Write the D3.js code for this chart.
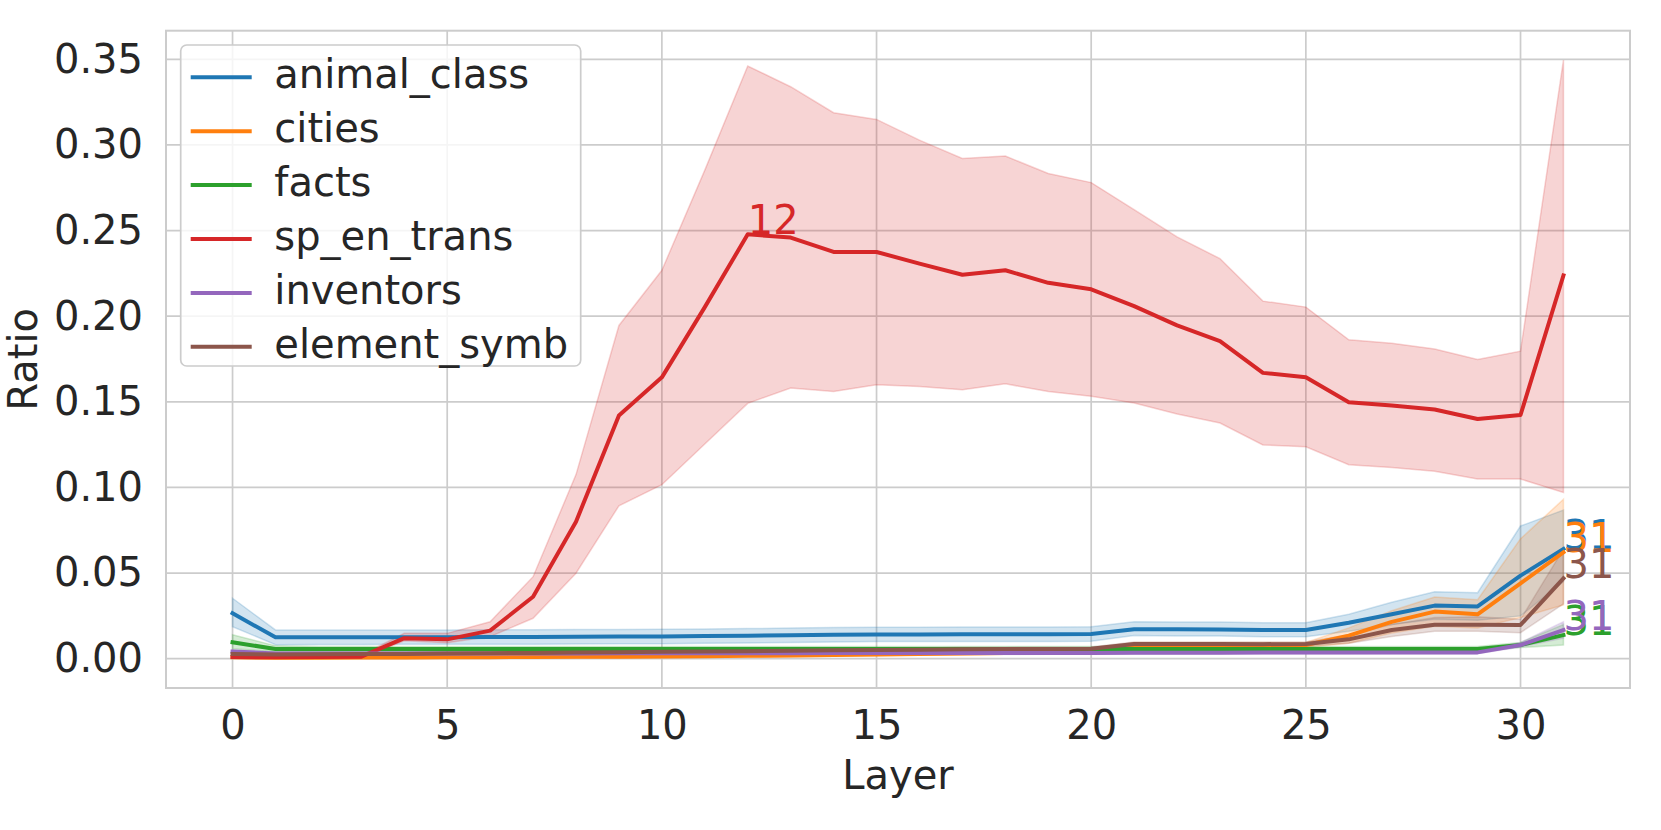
<!DOCTYPE html>
<html>
<head>
<meta charset="utf-8">
<script src="https://cdn.jsdelivr.net/npm/d3@7"></script>
<style>
  body { margin: 0; background: #fff; }
  text { font-family: "DejaVu Sans", sans-serif; fill: #262626; }
</style>
</head>
<body>
<div id="mainchart"></div>
<script>
// layers 0..31
var layers = d3.range(0, 32);
var seriesNames = ["animal_class", "cities", "facts", "sp_en_trans", "inventors", "element_symb"];
var seriesColors = ["#1f77b4", "#ff7f0e", "#2ca02c", "#d62728", "#9467bd", "#8c564b"];
var xTicks = [0, 5, 10, 15, 20, 25, 30];
var yTicks = [0, 0.05, 0.10, 0.15, 0.20, 0.25, 0.30, 0.35];

var animalMean  = [0.0265,0.0125,0.0125,0.0125,0.0126,0.0126,0.0127,0.0127,0.0128,0.0129,0.0130,0.0132,0.0134,0.0137,0.0140,0.0142,0.0142,0.0143,0.0143,0.0143,0.0144,0.0172,0.0172,0.0171,0.0168,0.0168,0.0210,0.0260,0.0310,0.0305,0.0485,0.0641];
var animalUpper = [0.0353,0.0168,0.0167,0.0167,0.0168,0.0168,0.0169,0.0169,0.0170,0.0171,0.0172,0.0174,0.0176,0.0179,0.0182,0.0184,0.0184,0.0185,0.0185,0.0185,0.0186,0.0216,0.0215,0.0214,0.0210,0.0210,0.0260,0.0330,0.0391,0.0385,0.0775,0.0868];
var animalLower = [0.0187,0.0082,0.0083,0.0083,0.0084,0.0084,0.0085,0.0085,0.0086,0.0087,0.0088,0.0090,0.0092,0.0095,0.0098,0.0100,0.0100,0.0101,0.0101,0.0101,0.0102,0.0135,0.0133,0.0132,0.0128,0.0128,0.0160,0.0200,0.0230,0.0225,0.0250,0.0450];

var citiesMean  = [0.0008,0.0006,0.0006,0.0007,0.0007,0.0008,0.0009,0.0010,0.0011,0.0012,0.0013,0.0015,0.0017,0.0019,0.0022,0.0025,0.0028,0.0030,0.0033,0.0035,0.0038,0.0080,0.0080,0.0080,0.0079,0.0080,0.0135,0.0215,0.0275,0.0259,0.0440,0.0621];
var citiesUpper = [0.0015,0.0013,0.0013,0.0014,0.0014,0.0015,0.0016,0.0018,0.0019,0.0020,0.0021,0.0023,0.0025,0.0027,0.0030,0.0033,0.0036,0.0038,0.0041,0.0043,0.0046,0.0095,0.0095,0.0095,0.0094,0.0095,0.0180,0.0280,0.0360,0.0345,0.0700,0.0931];
var citiesLower = [0.0002,0.0001,0.0001,0.0001,0.0001,0.0002,0.0003,0.0004,0.0005,0.0006,0.0007,0.0008,0.0010,0.0012,0.0015,0.0018,0.0021,0.0023,0.0026,0.0028,0.0031,0.0065,0.0065,0.0065,0.0064,0.0065,0.0090,0.0150,0.0190,0.0180,0.0240,0.0314];

var factsMean  = [0.0096,0.0057,0.0056,0.0056,0.0056,0.0056,0.0056,0.0056,0.0056,0.0056,0.0056,0.0056,0.0056,0.0056,0.0056,0.0056,0.0056,0.0056,0.0056,0.0056,0.0056,0.0057,0.0057,0.0057,0.0057,0.0057,0.0057,0.0057,0.0057,0.0057,0.0080,0.0138];
var factsUpper = [0.0140,0.0075,0.0071,0.0071,0.0071,0.0071,0.0071,0.0071,0.0071,0.0071,0.0071,0.0071,0.0071,0.0071,0.0071,0.0071,0.0071,0.0071,0.0071,0.0071,0.0071,0.0072,0.0072,0.0072,0.0072,0.0072,0.0072,0.0072,0.0072,0.0072,0.0095,0.0200];
var factsLower = [0.0058,0.0042,0.0041,0.0041,0.0041,0.0041,0.0041,0.0041,0.0041,0.0041,0.0041,0.0041,0.0041,0.0041,0.0041,0.0041,0.0041,0.0041,0.0041,0.0041,0.0041,0.0042,0.0042,0.0042,0.0042,0.0042,0.0042,0.0042,0.0042,0.0042,0.0065,0.0080];

var transMean  = [0.0010,0.0008,0.0010,0.0012,0.0120,0.0113,0.0164,0.0362,0.0800,0.1420,0.1643,0.2053,0.2478,0.2459,0.2375,0.2375,0.2307,0.2242,0.2268,0.2195,0.2157,0.2059,0.1946,0.1854,0.1669,0.1643,0.1497,0.1478,0.1455,0.1400,0.1423,0.2238];
var transUpper = [0.0020,0.0015,0.0018,0.0020,0.0148,0.0148,0.0216,0.0479,0.1075,0.1946,0.2268,0.2853,0.3461,0.3340,0.3188,0.3149,0.3028,0.2921,0.2935,0.2833,0.2780,0.2622,0.2463,0.2336,0.2088,0.2053,0.1862,0.1842,0.1809,0.1747,0.1796,0.3496];
var transLower = [0.0003,0.0002,0.0003,0.0004,0.0105,0.0093,0.0129,0.0236,0.0499,0.0893,0.1016,0.1254,0.1491,0.1581,0.1560,0.1599,0.1589,0.1570,0.1605,0.1560,0.1532,0.1493,0.1429,0.1376,0.1248,0.1238,0.1133,0.1117,0.1094,0.1049,0.1049,0.0971];

var inventorsMean  = [0.0042,0.0031,0.0031,0.0031,0.0031,0.0031,0.0031,0.0031,0.0031,0.0032,0.0032,0.0032,0.0032,0.0032,0.0033,0.0033,0.0033,0.0033,0.0033,0.0034,0.0034,0.0035,0.0035,0.0035,0.0036,0.0036,0.0036,0.0037,0.0037,0.0037,0.0080,0.0168];
var inventorsUpper = [0.0052,0.0039,0.0039,0.0039,0.0039,0.0039,0.0039,0.0039,0.0039,0.0040,0.0040,0.0040,0.0040,0.0040,0.0041,0.0041,0.0041,0.0041,0.0041,0.0042,0.0042,0.0043,0.0043,0.0043,0.0044,0.0044,0.0044,0.0045,0.0045,0.0045,0.0095,0.0216];
var inventorsLower = [0.0032,0.0023,0.0023,0.0023,0.0023,0.0023,0.0023,0.0023,0.0023,0.0024,0.0024,0.0024,0.0024,0.0024,0.0025,0.0025,0.0025,0.0025,0.0025,0.0026,0.0026,0.0027,0.0027,0.0027,0.0028,0.0028,0.0028,0.0029,0.0029,0.0029,0.0068,0.0120];

var symbMean  = [0.0027,0.0025,0.0026,0.0027,0.0028,0.0030,0.0032,0.0034,0.0036,0.0038,0.0040,0.0042,0.0044,0.0046,0.0049,0.0051,0.0053,0.0055,0.0056,0.0057,0.0058,0.0086,0.0086,0.0086,0.0085,0.0086,0.0113,0.0168,0.0198,0.0198,0.0197,0.0469];
var symbUpper = [0.0037,0.0035,0.0036,0.0037,0.0038,0.0040,0.0042,0.0044,0.0046,0.0048,0.0050,0.0052,0.0054,0.0056,0.0059,0.0061,0.0063,0.0065,0.0066,0.0067,0.0068,0.0098,0.0098,0.0098,0.0097,0.0098,0.0140,0.0200,0.0240,0.0245,0.0230,0.0640];
var symbLower = [0.0017,0.0015,0.0016,0.0017,0.0018,0.0020,0.0022,0.0024,0.0026,0.0028,0.0030,0.0032,0.0034,0.0036,0.0039,0.0041,0.0043,0.0045,0.0046,0.0047,0.0048,0.0074,0.0074,0.0074,0.0073,0.0074,0.0090,0.0130,0.0160,0.0160,0.0152,0.0320];

var means  = [animalMean, citiesMean, factsMean, transMean, inventorsMean, symbMean];
var uppers = [animalUpper, citiesUpper, factsUpper, transUpper, inventorsUpper, symbUpper];
var lowers = [animalLower, citiesLower, factsLower, transLower, inventorsLower, symbLower];

var series = seriesNames.map(function(name, i) {
    return {
        name: name,
        color: seriesColors[i],
        values: layers.map(function(l, j) {
            return {layer: l, mean: means[i][j], hi: uppers[i][j], lo: lowers[i][j]};
        })
    };
});

drawChart(series);

function drawChart(series) {
    var W = 1661, H = 830;
    var margin = {top: 30.7, right: 31, bottom: 142, left: 166};
    var fs = 40, grid = '#cccccc';

    var svg = d3.select("#mainchart").append("svg")
        .attr("width", W)
        .attr("height", H);

    var x = d3.scaleLinear().domain([-1.55, 32.55]).range([margin.left, W - margin.right]);
    var y = d3.scaleLinear().domain([-0.0171, 0.3667]).range([H - margin.bottom, margin.top]);

    // grid
    svg.append("g").selectAll("line.gx").data(xTicks).enter().append("line")
        .attr("x1", d => x(d)).attr("x2", d => x(d))
        .attr("y1", y.range()[0]).attr("y2", y.range()[1])
        .attr("stroke", grid).attr("stroke-width", 1.7);
    svg.append("g").selectAll("line.gy").data(yTicks).enter().append("line")
        .attr("y1", d => y(d)).attr("y2", d => y(d))
        .attr("x1", x.range()[0]).attr("x2", x.range()[1])
        .attr("stroke", grid).attr("stroke-width", 1.7);

    var xAxis = d3.axisBottom(x).tickValues(xTicks).tickSize(0).tickPadding(23).tickFormat(d3.format("d"));
    var yAxis = d3.axisLeft(y).tickValues(yTicks).tickSize(0).tickPadding(23).tickFormat(d3.format(".2f"));

    var gx = svg.append("g")
        .attr("class", "x axis")
        .attr("transform", "translate(0," + y.range()[0] + ")")
        .call(xAxis);
    var gy = svg.append("g")
        .attr("class", "y axis")
        .attr("transform", "translate(" + x.range()[0] + ",0)")
        .call(yAxis);
    svg.selectAll(".axis .domain").remove();
    svg.selectAll(".axis text").attr("font-size", fs).attr("font-family", "DejaVu Sans").attr("fill", "#262626");

    // bands
    var area = d3.area()
        .x(d => x(d.layer))
        .y0(d => y(d.lo))
        .y1(d => y(d.hi));
    svg.append("g").selectAll("path.band").data(series).enter().append("path")
        .attr("class", "band")
        .attr("d", d => area(d.values))
        .attr("fill", d => d.color).attr("fill-opacity", 0.2)
        .attr("stroke", d => d.color).attr("stroke-opacity", 0.2).attr("stroke-width", 1.5);

    var line = d3.line()
        .x(d => x(d.layer))
        .y(d => y(d.mean));
    svg.append("g").selectAll("path.line").data(series).enter().append("path")
        .attr("class", "line")
        .attr("d", d => line(d.values))
        .attr("fill", "none")
        .attr("stroke", d => d.color)
        .attr("stroke-width", 4)
        .attr("stroke-linejoin", "round")
        .attr("stroke-linecap", "square");

    // label the peak layer of each series
    svg.append("g").selectAll("text.peak").data(series).enter().append("text")
        .attr("class", "peak")
        .each(function(d) {
            var best = d.values[d3.maxIndex(d.values, v => v.mean)];
            d3.select(this)
                .attr("x", x(best.layer)).attr("y", y(best.mean))
                .text(best.layer);
        })
        .attr("font-size", fs)
        .style("fill", d => d.color);

    // frame
    svg.append("rect")
        .attr("x", x.range()[0]).attr("y", y.range()[1])
        .attr("width", x.range()[1] - x.range()[0])
        .attr("height", y.range()[0] - y.range()[1])
        .attr("fill", "none").attr("stroke", grid).attr("stroke-width", 2);

    // axis titles
    svg.append("text").attr("x", (x.range()[0] + x.range()[1]) / 2).attr("y", 789)
        .attr("text-anchor", "middle").attr("font-size", fs).text("Layer");
    svg.append("text")
        .attr("transform", "translate(37," + (y.range()[0] + y.range()[1]) / 2 + ") rotate(-90)")
        .attr("text-anchor", "middle").attr("font-size", fs).text("Ratio");

    // legend
    var leg = svg.append("g").attr("transform", "translate(180.7,45)");
    leg.append("rect")
        .attr("width", 400).attr("height", 321).attr("rx", 6)
        .attr("fill", "#fff").attr("fill-opacity", 0.8)
        .attr("stroke", grid).attr("stroke-width", 1.7);
    var items = leg.selectAll("g.item").data(series).enter().append("g")
        .attr("transform", (d, i) => "translate(0," + (32.3 + i * 53.9) + ")");
    items.append("line").attr("x1", 10).attr("x2", 71)
        .attr("stroke", d => d.color).attr("stroke-width", 4);
    items.append("text").attr("x", 93.6).attr("y", 11)
        .attr("font-size", fs).text(d => d.name);
}
</script>
</body>
</html>
